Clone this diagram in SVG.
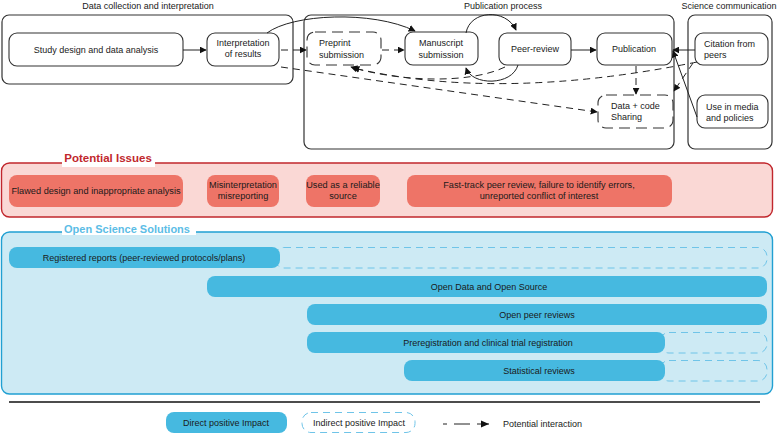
<svg xmlns="http://www.w3.org/2000/svg" width="778" height="433" viewBox="0 0 778 433">
<defs>
<style>
text{font-family:"Liberation Sans",Arial,sans-serif;fill:#1a1a1a}
.t{font-size:9px}
.s{font-size:9.2px}
.c{text-anchor:middle}
.sec{fill:none;stroke:#333;stroke-width:1.2}
.node{fill:#fff;stroke:#333;stroke-width:1.1}
.dnode{fill:#fff;stroke:#333;stroke-width:1.1;stroke-dasharray:11,6}
.ln{fill:none;stroke:#222;stroke-width:1}
.dl{fill:none;stroke:#222;stroke-width:1;stroke-dasharray:7,5}
.iss{fill:#ee7467}
.bar{fill:#46b9e0}
.ext{fill:none;stroke:#6fc4e8;stroke-width:1;stroke-dasharray:7,5}
</style>
<marker id="ah" viewBox="0 0 10 10" refX="9" refY="5" markerWidth="7" markerHeight="7" markerUnits="userSpaceOnUse" orient="auto">
<path d="M0,0 L10,5 L0,10 Z" fill="#111"/>
</marker>
</defs>
<rect width="778" height="433" fill="#fff"/>

<!-- Top section frames -->
<g id="sec-data">
<rect class="sec" x="2" y="15" width="291" height="69" rx="7"/>
<text class="t c" x="148" y="9">Data collection and interpretation</text>
</g>
<g id="sec-pub">
<rect class="sec" x="304" y="15" width="370" height="134" rx="7"/>
<text class="t c" x="503" y="9">Publication process</text>
</g>
<g id="sec-sci">
<rect class="sec" x="688" y="15" width="84" height="134" rx="7"/>
<text class="t c" x="729" y="9">Science communication</text>
</g>

<!-- Nodes -->
<g id="n-study"><rect class="node" x="9" y="33" width="174" height="33" rx="8"/><text class="t c" x="96" y="53">Study design and data analysis</text></g>
<g id="n-interp"><rect class="node" x="207" y="33" width="72" height="33" rx="8"/><text class="t c" x="243" y="46">Interpretation</text><text class="t c" x="243" y="57">of results</text></g>
<g id="n-preprint"><rect class="dnode" x="307" y="32" width="74" height="33" rx="8"/><text class="t" x="319" y="46">Preprint</text><text class="t" x="319" y="58">submission</text></g>
<g id="n-manu"><rect class="node" x="405" y="32" width="73" height="33" rx="8"/><text class="t c" x="441" y="46">Manuscript</text><text class="t c" x="441" y="58">submission</text></g>
<g id="n-peer"><rect class="node" x="499" y="33" width="72" height="32" rx="8"/><text class="t c" x="535" y="52">Peer-review</text></g>
<g id="n-pub"><rect class="node" x="597" y="33" width="75" height="32" rx="8"/><text class="t c" x="634" y="52">Publication</text></g>
<g id="n-data"><rect class="dnode" x="598" y="95" width="75" height="33" rx="8"/><text class="t" x="611" y="109">Data + code</text><text class="t" x="611" y="120">Sharing</text></g>
<g id="n-cite"><rect class="node" x="695" y="33" width="73" height="32" rx="8"/><text class="t" x="704" y="47">Citation from</text><text class="t" x="704" y="58">peers</text></g>
<g id="n-media"><rect class="node" x="697" y="95" width="71" height="33" rx="8"/><text class="t" x="706" y="110">Use in media</text><text class="t" x="706" y="121">and policies</text></g>

<!-- Connectors -->
<g id="connectors">
<path class="ln" d="M183,50 L206,50" marker-end="url(#ah)"/>
<path class="ln" d="M267,33 C292,14 372,10 415,31" marker-end="url(#ah)"/>
<path class="dl" d="M281,50 L306,50" marker-end="url(#ah)"/>
<path class="dl" d="M382,50 L404,50" marker-end="url(#ah)"/>
<path class="ln" d="M466,33 C470,10 506,8 516,30" marker-end="url(#ah)"/>
<path class="ln" d="M518,65 C512,86 472,86 466,68" marker-end="url(#ah)"/>
<path class="ln" d="M571,50 L596,50" marker-end="url(#ah)"/>
<path class="ln" d="M695,50 L673,50" marker-end="url(#ah)"/>
<path class="ln" d="M697,117 L673,51" marker-end="url(#ah)"/>
<path class="dl" d="M505,67 C470,84 400,82 351,67" marker-end="url(#ah)"/>
<path class="dl" d="M697,62 Q500,102 353,68" marker-end="url(#ah)"/>
<path class="dl" d="M281,67 L597,112" marker-end="url(#ah)"/>
<path class="dl" d="M636,66 L636,94" marker-end="url(#ah)"/>
<path class="dl" d="M693,63 L674,91" marker-end="url(#ah)"/>
</g>

<!-- Potential Issues -->
<g id="issues">
<rect x="1.5" y="163" width="771" height="54" rx="8" fill="#fad8d5" stroke="#c1272d" stroke-width="1.4"/>
<rect x="62" y="155" width="93" height="12" fill="#fff"/>
<text x="108" y="162" class="c" style="font-size:11.5px;font-weight:bold;fill:#c1272d">Potential Issues</text>
</g>
<g id="i-flawed"><rect class="iss" x="9" y="175" width="174" height="32" rx="8"/><text class="s c" x="96" y="194">Flawed design and inappropriate analysis</text></g>
<g id="i-mis"><rect class="iss" x="207" y="175" width="72" height="32" rx="8"/><text class="s c" x="243" y="188">Misinterpretation</text><text class="s c" x="243" y="199">misreporting</text></g>
<g id="i-used"><rect class="iss" x="306" y="175" width="74" height="32" rx="8"/><text class="s c" x="343" y="188">Used as a reliable</text><text class="s c" x="343" y="199">source</text></g>
<g id="i-fast"><rect class="iss" x="407" y="175" width="265" height="32" rx="8"/><text class="s c" x="539" y="188">Fast-track peer review, failure to identify errors,</text><text class="s c" x="539" y="199">unreported conflict of interest</text></g>

<!-- Open Science Solutions -->
<g id="solutions">
<rect x="1.5" y="232" width="771" height="162" rx="8" fill="#cdeaf4" stroke="#21a0d2" stroke-width="1.4"/>
<rect x="62" y="223" width="134" height="12" fill="#fff"/>
<text x="127" y="233" class="c" style="font-size:11px;font-weight:bold;fill:#5cbde6">Open Science Solutions</text>
</g>
<g id="s-reg"><rect class="ext" x="275" y="247.5" width="492" height="20.5" rx="9"/><rect class="bar" x="9" y="247" width="271" height="21" rx="8"/><text class="t c" x="144" y="261">Registered reports (peer-reviewed protocols/plans)</text></g>
<g id="s-data"><rect class="bar" x="207" y="276" width="560" height="21" rx="8"/><text class="t c" x="489" y="290">Open Data and Open Source</text></g>
<g id="s-peer"><rect class="bar" x="307" y="304" width="460" height="21" rx="8"/><text class="t c" x="537" y="318">Open peer reviews</text></g>
<g id="s-prereg"><rect class="ext" x="660" y="332.5" width="107" height="20.5" rx="9"/><rect class="bar" x="307" y="332" width="358" height="21" rx="8"/><text class="t c" x="488" y="346">Preregistration and clinical trial registration</text></g>
<g id="s-stat"><rect class="ext" x="660" y="360.5" width="107" height="20.5" rx="9"/><rect class="bar" x="404" y="360" width="261" height="21" rx="8"/><text class="t c" x="539" y="374">Statistical reviews</text></g>

<!-- Legend -->
<line x1="9" y1="402" x2="760" y2="402" stroke="#111" stroke-width="1.6"/>
<g id="lg-direct"><rect class="bar" x="166" y="412" width="121" height="21" rx="8"/><text class="t c" x="226" y="426">Direct positive Impact</text></g>
<g id="lg-indirect"><rect class="ext" x="302" y="412.5" width="113" height="20" rx="9" style="fill:#fff"/><text class="t c" x="359" y="426">Indirect positive Impact</text></g>
<g id="lg-potential">
<path d="M443,424 L447,424 M454,424 L470,424 M477,424 L489,424" class="ln" stroke-width="1"/>
<path d="M481,420.5 L489,424 L481,427.5 Z" fill="#111"/>
<text class="t" x="503" y="427">Potential interaction</text>
</g>
</svg>
